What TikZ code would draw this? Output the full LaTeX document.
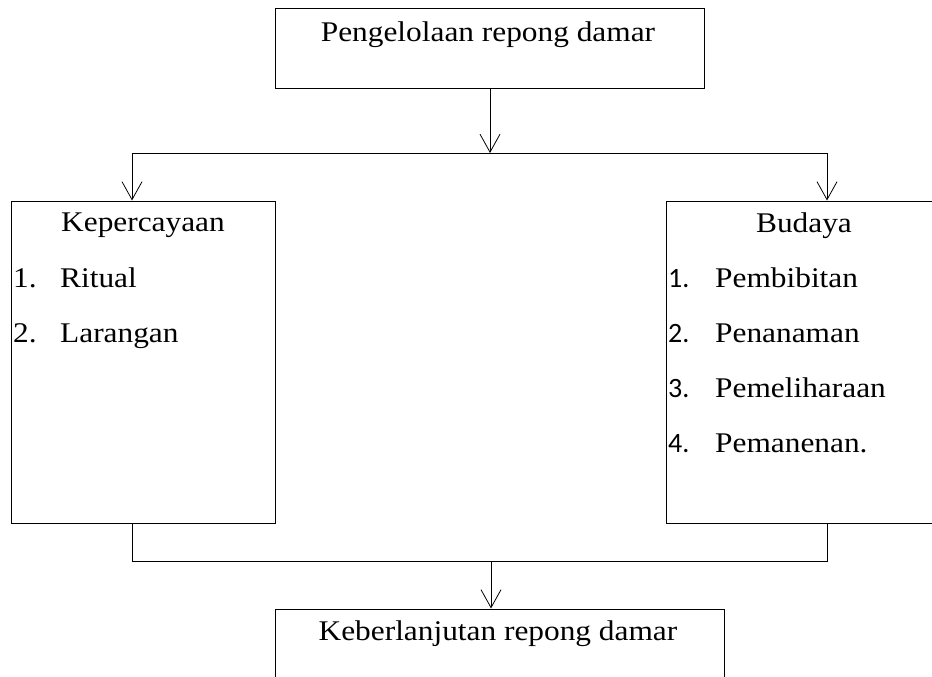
\documentclass[tikz,border=0pt]{standalone}
\usepackage{fontspec}
\setmainfont[FakeStretch=1.1]{Liberation Serif}
\newfontfamily\numfont{Carlito}
\usetikzlibrary{arrows.meta, positioning, calc}

\begin{document}
\begin{tikzpicture}[
    x=1pt, y=-1pt,
    box/.style={rectangle, draw, line width=1pt, inner sep=0pt},
    heading/.style={anchor=base, inner sep=0pt, font=\fontsize{28.5}{32}\selectfont},
    item/.style={anchor=base west, inner sep=0pt, font=\fontsize{28.5}{32}\selectfont},
    numsans/.style={anchor=base west, inner sep=0pt, font=\fontsize{28}{32}\selectfont\numfont},
    arrow/.style={-{Straight Barb[length=18pt, width=20pt]}, line width=0.8pt},
    link/.style={line width=0.8pt}
]
\useasboundingbox (0,0) rectangle (932,677);
% Top box
\node[box, minimum width=429pt, minimum height=80pt] (mgmt) at (490,49) {};
\node[heading] (mgmttext) at (488,42) {Pengelolaan repong damar};
% Belief box
\node[box, minimum width=264pt, minimum height=322pt] (belief) at (143,362) {};
\node[heading] (belieftext) at (143,231) {Kepercayaan};
\node[item] (belief1n) at (13,287) {1.};
\node[item] (belief1) at (60,287) {Ritual};
\node[item] (belief2n) at (13,342) {2.};
\node[item] (belief2) at (60,342) {Larangan};
% Culture box
\node[box, minimum width=276pt, minimum height=322pt] (culture) at (804,362) {};
\node[heading] (culturetext) at (804,232) {Budaya};
\node[numsans] (culture1n) at (668,287) {1.};
\node[item] (culture1) at (715,287) {Pembibitan};
\node[numsans] (culture2n) at (668,342) {2.};
\node[item] (culture2) at (715,342) {Penanaman};
\node[numsans] (culture3n) at (668,397) {3.};
\node[item] (culture3) at (715,397) {Pemeliharaan};
\node[numsans] (culture4n) at (668,452) {4.};
\node[item] (culture4) at (715,452) {Pemanenan.};
% Bottom box
\node[box, minimum width=449pt, minimum height=82pt] (sustain) at (499.5,650) {};
\node[heading] (sustaintext) at (498,640) {Keberlanjutan repong damar};
% Split
\coordinate (split) at (490,153);
\coordinate (splitL) at (132,153);
\coordinate (splitR) at (827,153);
\draw[arrow] (mgmt.south) -- (split);
\draw[link] (splitL) -- (splitR);
\draw[arrow] (splitL) -- (splitL |- belief.north);
\draw[arrow] (splitR) -- (splitR |- culture.north);
% Join
\coordinate (join) at (491,561);
\coordinate (joinL) at (132,561);
\coordinate (joinR) at (827,561);
\draw[link] (joinL |- belief.south) -- (joinL) -- (joinR) -- (joinR |- culture.south);
\draw[arrow] (join) -- (join |- sustain.north);
\end{tikzpicture}
\end{document}
